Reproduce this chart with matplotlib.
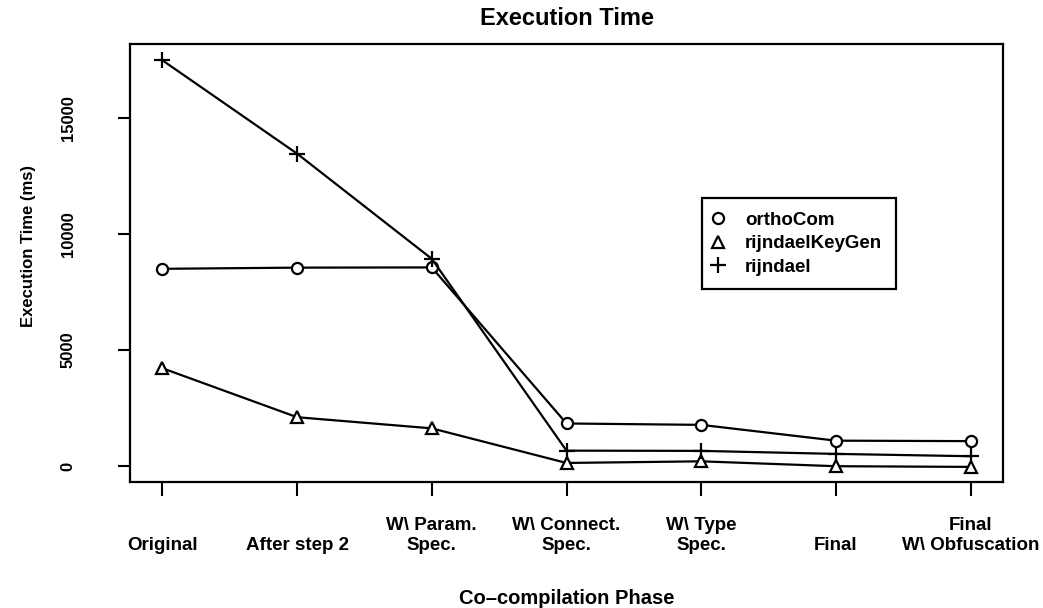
import matplotlib
matplotlib.use("Agg")
import matplotlib.pyplot as plt
from matplotlib.lines import Line2D

plt.rcParams['font.family'] = ['Liberation Sans', 'DejaVu Sans']

phases = ["\nOriginal", "\nAfter step 2", "W\\ Param.\nSpec.", "W\\ Connect.\nSpec.",
          "W\\ Type\nSpec.", "\nFinal", "Final\nW\\ Obfuscation"]
orthoCom = [8490, 8540, 8550, 1830, 1770, 1090, 1070]
rijndaelKeyGen = [4210, 2100, 1620, 130, 200, -10, -40]
rijndael = [17470, 13450, 8920, 660, 650, 520, 420]
series_names = ["orthoCom", "rijndaelKeyGen", "rijndael"]
y_ticks = [0, 5000, 10000, 15000]

W, H = 1043, 608
fig = plt.figure(figsize=(W / 100, H / 100), dpi=100)
ax = fig.add_axes([130 / W, 1 - 482 / H, (1003 - 130) / W, (482 - 44) / H])

x = list(range(1, len(phases) + 1))
lw = 1.6
ax.plot(x, orthoCom, color='black', lw=lw, marker='o', ms=8, mfc='white', mec='black', mew=1.6)
ax.plot(x, rijndaelKeyGen, color='black', lw=lw, marker='^', ms=9, mfc='white', mec='black', mew=1.6)
ax.plot(x, rijndael, color='black', lw=lw, marker='+', ms=12, mec='black', mew=1.6)

ax.set_xlim(0.76, 7.24)
ax.set_ylim(-690, 18170)
ax.set_xticks(x)
ax.set_xticklabels(phases, fontsize=13.5, fontweight='bold', linespacing=1.25)
ax.set_yticks(y_ticks)
ax.set_yticklabels([str(v) for v in y_ticks], fontsize=12, fontweight='bold',
                   rotation=90, va='center')
ax.tick_params(axis='x', length=10, width=1.5, pad=15)
ax.tick_params(axis='y', length=9, width=1.5, pad=30)
for s in ax.spines.values():
    s.set_linewidth(1.6)

ax.set_title("Execution Time", fontsize=17, fontweight='bold', pad=14)
ax.set_xlabel("Co\u2013compilation Phase", fontsize=14.5, fontweight='bold', labelpad=25)
ax.set_ylabel("Execution Time (ms)", fontsize=12, fontweight='bold')
ax.yaxis.set_label_coords(-94 / (1003 - 130), 0.539)

handles = [
    Line2D([], [], ls='none', marker='o', ms=8, mfc='white', mec='black', mew=1.6),
    Line2D([], [], ls='none', marker='^', ms=9, mfc='white', mec='black', mew=1.6),
    Line2D([], [], ls='none', marker='+', ms=12, mec='black', mew=1.6),
]
leg = ax.legend(handles, series_names, loc='upper left',
                bbox_to_anchor=(702 / W, 1 - 198 / H), bbox_transform=fig.transFigure,
                borderaxespad=0, fancybox=False, edgecolor='black', framealpha=1,
                prop={'size': 13.5, 'weight': 'bold'}, handlelength=0.2,
                handletextpad=1.35, labelspacing=0.33, borderpad=0.74)
leg.get_frame().set_linewidth(1.6)

fig.savefig("out.png", dpi=100)
